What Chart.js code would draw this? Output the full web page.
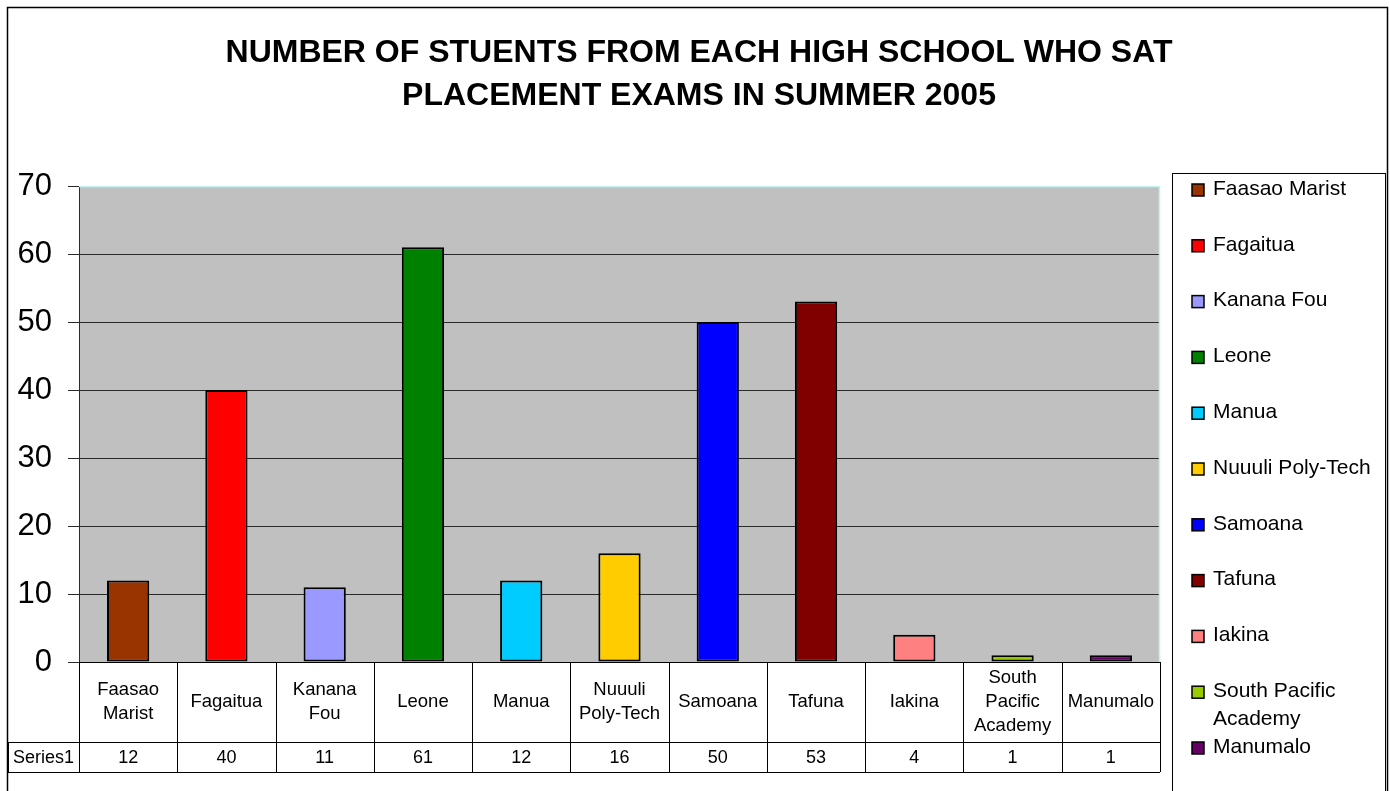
<!DOCTYPE html>
<html>
<head>
<meta charset="utf-8">
<script src="https://cdn.jsdelivr.net/npm/chart.js@4.4.1/dist/chart.umd.min.js"></script>
<style>
html,body{margin:0;padding:0;background:#fff;}
#wrap{position:relative;width:1390px;height:791px;}
</style>
</head>
<body>
<div id="wrap"><canvas id="grafico"></canvas></div>
<script>
var schools = ['Faasao Marist','Fagaitua','Kanana Fou','Leone','Manua','Nuuuli Poly-Tech','Samoana','Tafuna','Iakina','South Pacific Academy','Manumalo'];
var tableLabels = [['Faasao','Marist'],['Fagaitua'],['Kanana','Fou'],['Leone'],['Manua'],['Nuuuli','Poly-Tech'],['Samoana'],['Tafuna'],['Iakina'],['South','Pacific','Academy'],['Manumalo']];
var legendLabels = [['Faasao Marist'],['Fagaitua'],['Kanana Fou'],['Leone'],['Manua'],['Nuuuli Poly-Tech'],['Samoana'],['Tafuna'],['Iakina'],['South Pacific','Academy'],['Manumalo']];
var students = [12,40,11,61,12,16,50,53,4,1,1];
var barColors = ['#993300','#FF0000','#9999FF','#008000','#00CCFF','#FFCC00','#0000FF','#800000','#FF8080','#99CC00','#660066'];
var seriesName = 'Series1';
var titleLines = ['NUMBER OF STUENTS FROM EACH HIGH SCHOOL WHO SAT','PLACEMENT EXAMS IN SUMMER 2005'];

var FONT = "'Liberation Sans', Arial, sans-serif";

// draws the grey plot area, title, data table, legend and frame
var excelLook = {
    id: 'excelLook',
    beforeDraw: function(chart) {
        var c = chart.ctx, a = chart.chartArea;
        c.save();
        c.fillStyle = '#fff';
        c.fillRect(0, 0, chart.width, chart.height);
        c.fillStyle = '#C0C0C0';
        c.fillRect(a.left, a.top, a.right - a.left, a.bottom - a.top);
        c.restore();
    },
    afterDraw: function(chart) {
        var c = chart.ctx, a = chart.chartArea, x = chart.scales.x;
        c.save();

        // pale border top/right of plot area
        c.strokeStyle = '#C6F2F2';
        c.lineWidth = 1.5;
        c.beginPath();
        c.moveTo(a.left, a.top + 0.5); c.lineTo(a.right - 0.5, a.top + 0.5); c.lineTo(a.right - 0.5, a.bottom);
        c.stroke();

        // title
        c.fillStyle = '#000';
        c.font = 'bold 32px ' + FONT;
        c.textAlign = 'center';
        c.textBaseline = 'middle';
        titleLines.forEach(function(t, i) { c.fillText(t, 699, 53 + i * 43); });

        // data table
        var half = (x.getPixelForValue(1) - x.getPixelForValue(0)) / 2;
        var rowTop = a.bottom, rowMid = 742, rowBot = 772;
        c.strokeStyle = '#000';
        c.lineWidth = 1;
        c.beginPath();
        c.moveTo(a.left, rowTop + 0.5); c.lineTo(a.right, rowTop + 0.5);
        c.moveTo(8, rowMid + 0.5); c.lineTo(a.right, rowMid + 0.5);
        c.moveTo(8, rowBot + 0.5); c.lineTo(a.right, rowBot + 0.5);
        c.moveTo(8.5, rowMid); c.lineTo(8.5, rowBot);
        for (var i = 0; i <= students.length; i++) {
            var bx = Math.round(x.getPixelForValue(i) - half) + 0.5;
            c.moveTo(bx, rowTop); c.lineTo(bx, rowBot);
        }
        c.stroke();

        c.fillStyle = '#000';
        c.textAlign = 'center';
        c.textBaseline = 'middle';
        c.font = '18.5px ' + FONT;
        tableLabels.forEach(function(lines, i) {
            var cx = x.getPixelForValue(i);
            var y0 = (rowTop + rowMid) / 2 - (lines.length - 1) * 12;
            lines.forEach(function(l, j) { c.fillText(l, cx, y0 + j * 24); });
        });
        c.font = '18px ' + FONT;
        students.forEach(function(v, i) { c.fillText(String(v), x.getPixelForValue(i), (rowMid + rowBot) / 2 + 1); });
        c.fillText(seriesName, (8 + a.left) / 2, (rowMid + rowBot) / 2 + 1);

        // legend
        c.strokeStyle = '#000';
        c.lineWidth = 1;
        c.strokeRect(1172.5, 173.5, 213, 640);
        c.font = '21px ' + FONT;
        c.textAlign = 'left';
        legendLabels.forEach(function(lines, i) {
            var ly = 189 + i * 55.8;
            c.fillStyle = barColors[i];
            c.fillRect(1192, ly - 5, 12, 12);
            c.strokeStyle = '#000';
            c.lineWidth = 1.5;
            c.strokeRect(1192, ly - 5, 12, 12);
            c.fillStyle = '#000';
            lines.forEach(function(l, j) { c.fillText(l, 1213, ly + j * 28); });
        });

        // outer frame
        c.lineWidth = 1.5;
        c.strokeRect(7.5, 7.5, 1380, 820);
        c.restore();
    }
};

var data = {
    labels: schools,
    datasets: [{
        label: seriesName,
        data: students,
        backgroundColor: barColors,
        borderColor: '#000',
        borderWidth: 2,
        borderSkipped: false,
        barPercentage: 0.43,
        categoryPercentage: 1
    }]
};

var options = {
    responsive: true,
    maintainAspectRatio: false,
    animation: false,
    layout: { padding: { top: 186, right: 230, left: 0, bottom: 0 } },
    plugins: { legend: { display: false }, tooltip: { enabled: false }, title: { display: false } },
    scales: {
        y: {
            min: 0,
            max: 70,
            ticks: { stepSize: 10, padding: 16, color: '#000', font: { family: FONT, size: 31 } },
            grid: { color: '#2a2a2a', lineWidth: 1, tickLength: 11, drawTicks: true },
            border: { display: true, color: '#2a2a2a', width: 1 },
            afterFit: function(s) { s.width = 79; }
        },
        x: {
            ticks: { display: false },
            grid: { display: false },
            border: { display: false },
            afterFit: function(s) { s.height = 129; }
        }
    }
};

var ctx = document.querySelector('#grafico').getContext('2d');
var barChart = new Chart(ctx, {
    type: 'bar',
    data: data,
    options: options,
    plugins: [excelLook]
});
</script>
</body>
</html>
